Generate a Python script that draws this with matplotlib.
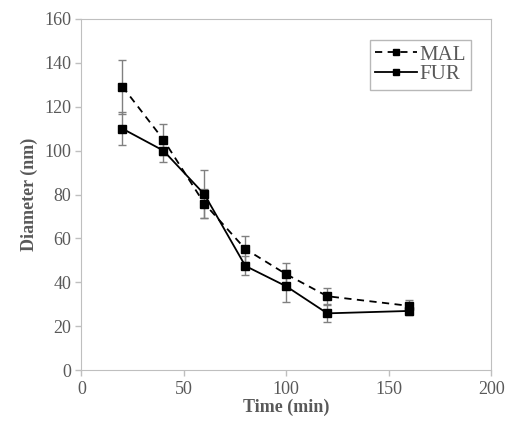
import matplotlib
matplotlib.use("Agg")
import matplotlib.pyplot as plt

plt.rcParams['font.family'] = ['Liberation Serif', 'DejaVu Serif']

time = [20, 40, 60, 80, 100, 120, 160]
mal = [129.2, 105, 75.9, 55.2, 43.7, 33.7, 29.3]
mal_err = [12.3, 7, 6.6, 6, 5, 3.6, 2.7]
fur = [110, 100, 80.1, 47.5, 38.2, 25.9, 27]
fur_err = [7.6, 5, 11, 4.3, 7.3, 4, 2]

fig = plt.figure(figsize=(5.09, 4.29), dpi=100)
ax = fig.add_axes([0.16, 0.137, 0.805, 0.819])

ax.errorbar(time, mal, yerr=mal_err, fmt='none', ecolor='#808080',
            elinewidth=1, capsize=3)
ax.errorbar(time, fur, yerr=fur_err, fmt='none', ecolor='#808080',
            elinewidth=1, capsize=3)
ax.plot(time, mal, color='black', ls='--', lw=1.3, marker='s', ms=6,
        dashes=(4, 3), label='MAL')
ax.plot(time, fur, color='black', ls='-', lw=1.3, marker='s', ms=6,
        label='FUR')

ax.set_xlim(0, 200)
ax.set_ylim(0, 160)
ax.set_xticks(range(0, 201, 50))
ax.set_yticks(range(0, 161, 20))
ax.tick_params(labelsize=13, colors='#bfbfbf', labelcolor='#595959',
               length=4, width=1)
for s in ax.spines.values():
    s.set_color('#bfbfbf')

ax.set_xlabel('Time (min)', fontsize=13, fontweight='bold', color='#595959', labelpad=1)
ax.set_ylabel('Diameter (nm)', fontsize=13, fontweight='bold', color='#595959', labelpad=4)

leg = ax.legend(loc='upper right', bbox_to_anchor=(0.95, 0.94), fontsize=15,
                frameon=True, fancybox=False, handlelength=2.0, handletextpad=0.1,
                borderpad=0.25, labelspacing=0.0, borderaxespad=0,
                markerscale=0.8, edgecolor='#a6a6a6')
leg.get_frame().set_linewidth(1)
for t in leg.get_texts():
    t.set_color('#595959')

fig.savefig('out.png', dpi=100)
